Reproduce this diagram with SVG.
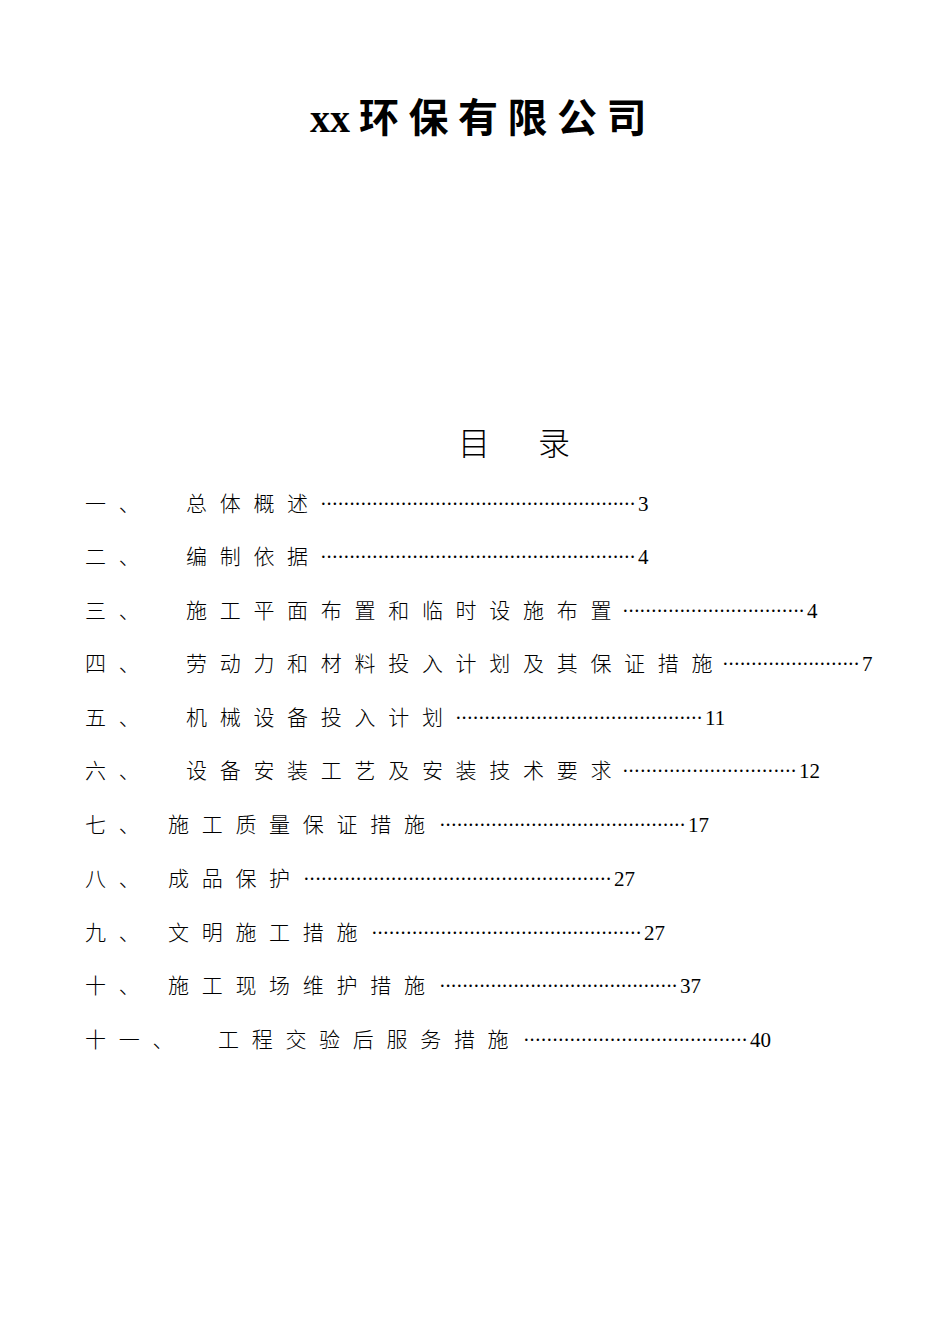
<svg xmlns="http://www.w3.org/2000/svg" width="950" height="1344" viewBox="0 0 950 1344">
<style>
.t{font-family:"Liberation Serif","Noto Sans CJK SC",serif;font-size:21px;fill:#000;letter-spacing:12.7px;font-weight:300}
.d{font-family:"Liberation Serif",serif;font-size:20px;fill:#000}
.n{font-family:"Liberation Serif",serif;font-size:21px;fill:#000}
</style>
<rect width="950" height="1344" fill="#fff"/>
<text x="310" y="132" font-family="Liberation Serif,serif" font-weight="bold" font-size="40">xx</text>
<text x="359" y="132" font-family="'Noto Sans CJK SC',sans-serif" font-weight="bold" font-size="40" letter-spacing="9.5">环保有限公司</text>
<text x="458" y="455" font-family="'Noto Sans CJK SC',serif" font-size="32" font-weight="300">目</text>
<text x="538" y="455" font-family="'Noto Sans CJK SC',serif" font-size="32" font-weight="300">录</text>
<g id="toc">
<text class="t" x="85" y="511">一、</text><text class="t" x="186" y="511">总体概述</text><text class="d" x="320" y="511" textLength="316" lengthAdjust="spacing">·······················································</text><text class="n" x="638" y="511">3</text>
<text class="t" x="85" y="564">二、</text><text class="t" x="186" y="564">编制依据</text><text class="d" x="320" y="564" textLength="316" lengthAdjust="spacing">·······················································</text><text class="n" x="638" y="564">4</text>
<text class="t" x="85" y="618">三、</text><text class="t" x="186" y="618">施工平面布置和临时设施布置</text><text class="d" x="622" y="618" textLength="183" lengthAdjust="spacing">································</text><text class="n" x="807" y="618">4</text>
<text class="t" x="85" y="671">四、</text><text class="t" x="186" y="671">劳动力和材料投入计划及其保证措施</text><text class="d" x="722" y="671" textLength="138" lengthAdjust="spacing">························</text><text class="n" x="862" y="671">7</text>
<text class="t" x="85" y="725">五、</text><text class="t" x="186" y="725">机械设备投入计划</text><text class="d" x="455" y="725" textLength="248" lengthAdjust="spacing">···········································</text><text class="n" x="705" y="725">11</text>
<text class="t" x="85" y="778">六、</text><text class="t" x="186" y="778">设备安装工艺及安装技术要求</text><text class="d" x="622" y="778" textLength="175" lengthAdjust="spacing">······························</text><text class="n" x="799" y="778">12</text>
<text class="t" x="85" y="832">七、</text><text class="t" x="168" y="832">施工质量保证措施</text><text class="d" x="439" y="832" textLength="247" lengthAdjust="spacing">···········································</text><text class="n" x="688" y="832">17</text>
<text class="t" x="85" y="886">八、</text><text class="t" x="168" y="886">成品保护</text><text class="d" x="303" y="886" textLength="309" lengthAdjust="spacing">·····················································</text><text class="n" x="614" y="886">27</text>
<text class="t" x="85" y="940">九、</text><text class="t" x="168" y="940">文明施工措施</text><text class="d" x="371" y="940" textLength="271" lengthAdjust="spacing">···············································</text><text class="n" x="644" y="940">27</text>
<text class="t" x="85" y="993">十、</text><text class="t" x="168" y="993">施工现场维护措施</text><text class="d" x="439" y="993" textLength="239" lengthAdjust="spacing">··········································</text><text class="n" x="680" y="993">37</text>
<text class="t" x="85" y="1047">十一、</text><text class="t" x="218" y="1047">工程交验后服务措施</text><text class="d" x="523" y="1047" textLength="225" lengthAdjust="spacing">·······································</text><text class="n" x="750" y="1047">40</text>
</g>
</svg>
